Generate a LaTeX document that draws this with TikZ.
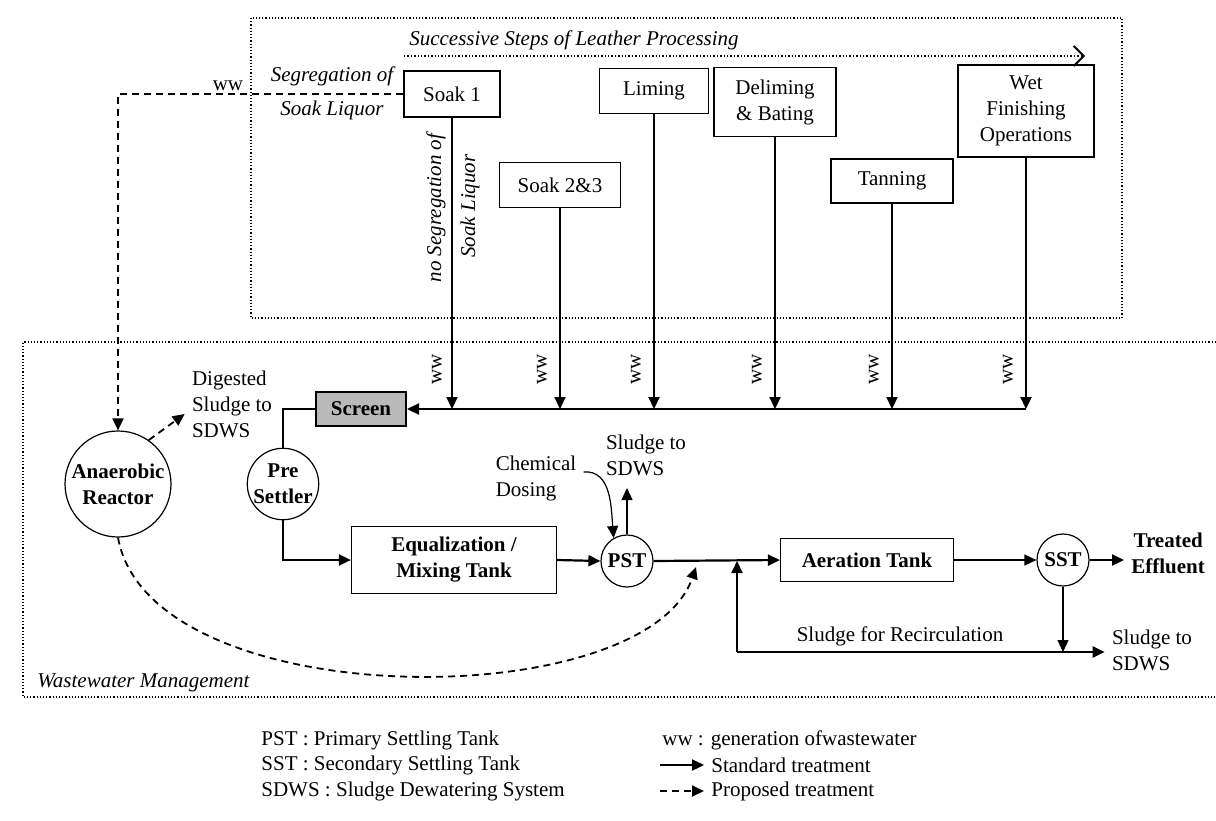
\documentclass[tikz,border=0pt]{standalone}
\usepackage{fontspec}
\setmainfont{Liberation Serif}
\usetikzlibrary{arrows.meta}
\begin{document}
\begin{tikzpicture}[x=0.5pt, y=-0.5pt,
    every node/.style={align=center},
    proc/.style={draw, rectangle, line width=0.6pt, inner sep=2pt},
    tank/.style={draw, circle, line width=0.6pt, inner sep=0pt, font=\bfseries},
    flow/.style={line width=1.1pt, -{Triangle[length=6pt,width=5.5pt]}},
    thinflow/.style={line width=0.6pt, -{Triangle[length=6pt,width=5.5pt]}},
    prop/.style={line width=0.9pt, dash pattern=on 3.5pt off 2.5pt, -{Triangle[length=6pt,width=5.5pt]}},
    frame/.style={line width=0.6pt, densely dotted}]
    \fontsize{10.5}{13}\selectfont
    \useasboundingbox (0,0) rectangle (1216,820);

    \draw[frame] (251,18) rectangle (1122,318);
    \draw[frame] (1216,342) -- (23,342) -- (23,697) -- (1216,697);

    \node[font=\itshape] (steps) at (574,40) {Successive Steps of Leather Processing};
    \coordinate (stepsA) at (404,56);
    \coordinate (stepsB) at (1085,56);
    \draw[line width=0.7pt, densely dotted, -{Straight Barb[length=5pt,width=10pt,line width=0.9pt]}] (stepsA) -- (stepsB);

    \node[proc, minimum width=48pt, minimum height=23pt] (soak1) at (452,94) {Soak 1};
    \node[proc, minimum width=54.5pt, minimum height=22.5pt] (liming) at (654,91) {Liming};
    \node[proc, minimum width=61pt, minimum height=34.5pt] (delim) at (775,102) {Deliming\\\& Bating};
    \node[proc, minimum width=68pt, minimum height=46pt] (wet) at (1026,111) {Wet\\Finishing\\Operations};
    \node[proc, minimum width=60.5pt, minimum height=22.5pt] (soak23) at (560,185) {Soak 2\&3};
    \node[proc, minimum width=61pt, minimum height=22pt] (tanning) at (892,181) {Tanning};

    \node (wwseg) at (228,86) {ww};
    \node[font=\itshape] (seg) at (332,93) {Segregation of\\[4pt]Soak Liquor};
    \node[font=\itshape, rotate=90] (noseg1) at (436,208) {no Segregation of};
    \node[font=\itshape, rotate=90] (noseg2) at (470,206) {Soak Liquor};

    \node[proc, fill=gray!55, line width=1pt, font=\bfseries, minimum width=45pt, minimum height=17pt] (screen) at (361,409) {Screen};
    \node[tank, minimum size=53pt] (anaer) at (118,484) {Anaerobic\\Reactor};
    \node[tank, minimum size=33pt] (pre) at (283,484) {Pre\\Settler};
    \node[proc, font=\bfseries, minimum width=102.5pt, minimum height=33.5pt] (eq) at (454,560) {Equalization /\\Mixing Tank};
    \node[tank, minimum size=26pt] (pst) at (627,561) {PST};
    \node[proc, font=\bfseries, minimum width=86.5pt, minimum height=21.5pt] (aer) at (867,560) {Aeration Tank};
    \node[tank, minimum size=26pt] (sst) at (1063,560) {SST};
    \node[anchor=west, font=\bfseries] (treated) at (1124,553) {Treated\\Effluent};

    \node[align=left] (dig) at (232,404) {Digested\\Sludge to\\SDWS};
    \node[align=left] (chem) at (536,478) {Chemical\\Dosing};
    \node[align=left] (sdws1) at (646,455) {Sludge to\\SDWS};
    \node (recirc) at (900,636) {Sludge for Recirculation};
    \node[align=left] (sdws3) at (1152,650) {Sludge to\\SDWS};
    \node[font=\itshape, anchor=west] (wwm) at (30,683) {Wastewater Management};

    \foreach \b/\x in {soak1/437, soak23/542, liming/636, delim/757, tanning/874, wet/1008}{
        \draw[flow] (\b.south) -- (\b.south |- screen.east);
        \node[rotate=90] (ww-\b) at (\x,369) {ww};
    }
    \draw[flow] (wet.south |- screen.east) -- (screen.east);
    \draw[line width=0.6pt] (screen.west) -| (pre.north);
    \draw[flow] (pre.south) |- (eq.west);
    \draw[flow] (eq.east) -- (pst.west);
    \draw[flow] (pst.east) -- (aer.west);
    \draw[thinflow] (aer.east) -- (sst.west);
    \draw[flow] (sst.east) -- (sst.east -| treated.west);

    \coordinate (pstup) at (627,488);
    \draw[thinflow] (pst.north) -- (pstup);
    \draw[thinflow] ([yshift=3pt]chem.east) to[out=5, in=95] (pst.120);

    \coordinate (rcC) at (737,652);
    \draw[thinflow] (sst.south) -- (sst.south |- rcC);
    \draw[flow] (rcC) -- (rcC |- pst.east);
    \draw[flow] (rcC) -- (rcC -| sdws3.west);

    \draw[prop] (soak1.west) -| (anaer.north);
    \draw[prop] (anaer.55) -- ([yshift=-5pt]dig.west);
    \coordinate (jd) at (696,567);
    \draw[prop] (anaer.south) .. controls (150,716) and (645,716) .. (jd);

    \node[anchor=west] (leg1) at (254,740) {PST : Primary Settling Tank};
    \node[anchor=west] (leg2) at (254,765) {SST : Secondary Settling Tank};
    \node[anchor=west] (leg3) at (254,791) {SDWS : Sludge Dewatering System};
    \node[anchor=west] (leg4) at (655,740) {ww : generation ofwastewater};
    \coordinate (stdS) at (660,765);
    \node[anchor=west] (stdtxt) at (704,765) {Standard treatment};
    \draw[flow] (stdS) -- (stdtxt.west);
    \coordinate (propS) at (660,791);
    \node[anchor=west] (proptxt) at (704,791) {Proposed treatment};
    \draw[prop] (propS) -- (proptxt.west);
\end{tikzpicture}
\end{document}
